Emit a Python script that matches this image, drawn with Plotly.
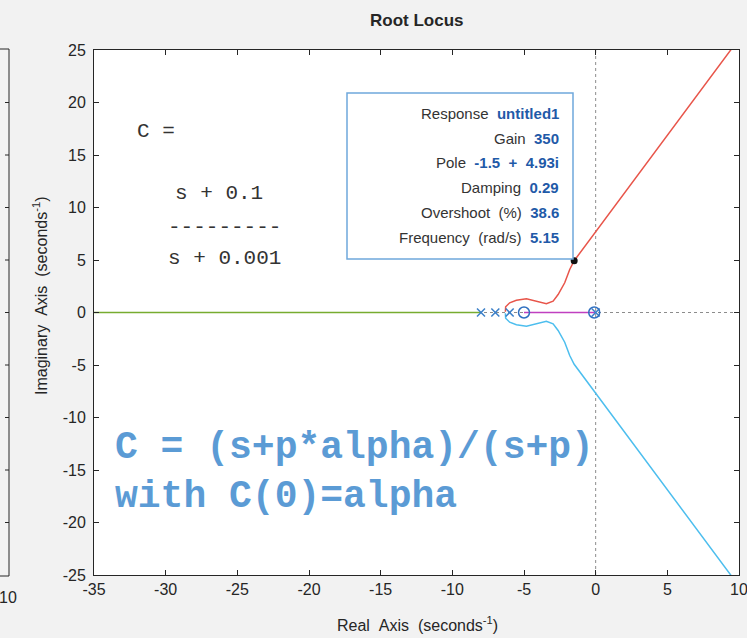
import plotly.graph_objects as go

# ---------------- data ----------------
poles_re = [-8.0, -7.0, -6.0, 0.0]
zeros_re = [-5.0, -0.1]

green_re = [-50.0, -8.0]
green_im = [0.0, 0.0]

magenta_re = [-5.0, 0.0]
magenta_im = [0.0, 0.0]

red_re = [-6.30, -6.28, -6.00, -5.53, -4.83, -4.13, -3.44, -2.97, -2.62, -2.16, -1.81, -1.50, 0.0, 5.0, 9.4, 11.0]
red_im = [0.07, 0.54, 0.92, 1.17, 1.30, 1.08, 0.83, 1.08, 1.71, 2.83, 4.10, 4.93, 7.7, 16.9, 25.0, 27.9]

cyan_re = [-6.30, -6.28, -6.00, -5.53, -4.83, -4.13, -3.44, -2.97, -2.62, -2.16, -1.81, -1.50, 0.0, 5.0, 9.4, 11.0]
cyan_im = [-0.07, -0.54, -0.92, -1.17, -1.30, -1.08, -0.83, -1.08, -1.71, -2.83, -4.10, -4.93, -7.7, -16.9, -25.0, -27.9]

sel_re = [-1.5]
sel_im = [4.93]

x_ticks = [-35, -30, -25, -20, -15, -10, -5, 0, 5, 10]
y_ticks = [-25, -20, -15, -10, -5, 0, 5, 10, 15, 20, 25]

tip_labels = ["Response", "Gain", "Pole", "Damping", "Overshoot&nbsp;&nbsp;(%)", "Frequency&nbsp;&nbsp;(rad/s)"]
tip_values = ["untitled1", "350", "-1.5&nbsp;&nbsp;+&nbsp;&nbsp;4.93i", "0.29", "38.6", "5.15"]

# ---------------- layout helpers ----------------
W, H = 747, 638
L, R, T, B = 94, 8, 50, 63
PW, PH = W - L - R, H - T - B


def px(x):
    return (x - L) / PW


def py(y):
    return (H - B - y) / PH


fig = go.Figure()

fig.add_trace(go.Scatter(x=green_re, y=green_im, mode="lines",
                         line=dict(color="#77AC30", width=1.5), hoverinfo="skip"))
fig.add_trace(go.Scatter(x=magenta_re, y=magenta_im, mode="lines",
                         line=dict(color="#C040C0", width=1.5), hoverinfo="skip"))
fig.add_trace(go.Scatter(x=red_re, y=red_im, mode="lines",
                         line=dict(color="#E8554A", width=1.5), hoverinfo="skip"))
fig.add_trace(go.Scatter(x=cyan_re, y=cyan_im, mode="lines",
                         line=dict(color="#4DBEEE", width=1.5), hoverinfo="skip"))
fig.add_trace(go.Scatter(x=poles_re, y=[0] * len(poles_re), mode="markers",
                         marker=dict(symbol="x-thin-open", size=8, color="#3A7FC8",
                                     line=dict(color="#3A7FC8", width=1.5)), hoverinfo="skip"))
fig.add_trace(go.Scatter(x=zeros_re, y=[0] * len(zeros_re), mode="markers",
                         marker=dict(symbol="circle-open", size=11, color="#2F6FC0",
                                     line=dict(color="#2F6FC0", width=1.5)), hoverinfo="skip"))
fig.add_trace(go.Scatter(x=sel_re, y=sel_im, mode="markers",
                         marker=dict(symbol="circle", size=7, color="#111111"), hoverinfo="skip"))

tick_font = dict(family="Liberation Sans, Arial", size=16, color="#262626")
axis_common = dict(
    showgrid=False, zeroline=False, showline=True, linecolor="#262626", linewidth=1,
    mirror="ticks", ticks="inside", ticklen=5, tickcolor="#262626", tickfont=tick_font,
)

fig.update_xaxes(range=[-35, 10], tickvals=x_ticks, ticktext=[str(v) for v in x_ticks], **axis_common)
fig.update_yaxes(range=[-25, 25], tickvals=y_ticks, ticktext=[str(v) for v in y_ticks],
                 ticklabelstandoff=4, **axis_common)

shapes = [
    dict(type="line", xref="x", yref="paper", x0=0, x1=0, y0=0, y1=1,
         line=dict(color="#8C8C8C", width=1, dash="dot"), layer="below"),
    dict(type="line", xref="paper", yref="y", x0=0, x1=1, y0=0, y1=0,
         line=dict(color="#8C8C8C", width=1, dash="dot"), layer="below"),
    # data tip box
    dict(type="rect", xref="paper", yref="paper", x0=px(347), x1=px(573), y0=py(259), y1=py(93),
         line=dict(color="#6FA8DC", width=1.5), fillcolor="white", layer="above"),
    # partial neighbouring axes at left edge
    dict(type="line", xref="paper", yref="paper", x0=px(9), x1=px(9), y0=py(49), y1=py(576),
         line=dict(color="#262626", width=1)),
    dict(type="line", xref="paper", yref="paper", x0=px(-2), x1=px(9), y0=py(49), y1=py(49),
         line=dict(color="#262626", width=1)),
    dict(type="line", xref="paper", yref="paper", x0=px(-2), x1=px(9), y0=py(576), y1=py(576),
         line=dict(color="#262626", width=1)),
]
for yt in y_ticks[1:-1]:
    ypix = (H - B) - (yt + 25) / 50 * PH
    shapes.append(dict(type="line", xref="paper", yref="paper", x0=px(5), x1=px(9),
                       y0=py(ypix), y1=py(ypix), line=dict(color="#262626", width=1)))

sans = "Liberation Sans, Arial"
mono = "Liberation Mono, DejaVu Sans Mono, monospace"


def ann(text, x, y, xanchor="center", font=None, **kw):
    d = dict(text=text, x=px(x), y=py(y), xref="paper", yref="paper", showarrow=False,
             xanchor=xanchor, yanchor="middle", font=font)
    d.update(kw)
    return d


annotations = [
    ann("<b>Root Locus</b>", 417, 21, font=dict(family=sans, size=17, color="#262626")),
    ann("Real&nbsp;&nbsp;Axis&nbsp;&nbsp;(seconds<sup>-1</sup>)", 417, 624,
        font=dict(family=sans, size=16, color="#262626")),
    ann("Imaginary&nbsp;&nbsp;Axis&nbsp;&nbsp;(seconds<sup>-1</sup>)", 40, 296,
        font=dict(family=sans, size=16, color="#262626"), textangle=-90),
    ann("10", -3, 597, xanchor="left", font=tick_font),
    # last x tick label (partly beyond the figure edge, as in the reference)
    dict(text=str(x_ticks[-1]), x=x_ticks[-1], xref="x", y=py(589), yref="paper",
         showarrow=False, xanchor="center", yanchor="middle", font=tick_font),
]

cfont = dict(family=mono, size=21, color="#333333")
annotations += [
    ann("C =", 135, 131, xanchor="left", font=cfont),
    ann("s + 0.1", 219, 193, font=cfont),
    ann("---------", 224, 227, font=cfont),
    ann("s + 0.001", 224, 258, font=cfont),
]

tip_y = [113, 138, 162, 187, 212, 237]
for lab, val, yy in zip(tip_labels, tip_values, tip_y):
    annotations.append(ann(
        f"{lab}&nbsp;&nbsp;<b><span style='color:#1F5AA8'>{val}</span></b>", 561, yy,
        xanchor="right", font=dict(family=sans, size=15, color="#333333")))

big_lines = ["C = (s+p*alpha)/(s+p)", "with C(0)=alpha"]
for txt, yy in zip(big_lines, [447, 496]):
    annotations.append(ann(f"<b>{txt}</b>", 113, yy, xanchor="left",
                           font=dict(family=mono, size=38, color="#5B9BD5")))

fig.update_layout(
    width=W, height=H,
    margin=dict(l=L, r=R, t=T, b=B),
    paper_bgcolor="#F2F2F2", plot_bgcolor="white",
    showlegend=False,
    shapes=shapes, annotations=annotations,
)

fig.write_html(
    "out.html",
    config={"displayModeBar": False},
    post_script="document.body.style.margin='0';document.body.style.background='#F2F2F2';",
)
